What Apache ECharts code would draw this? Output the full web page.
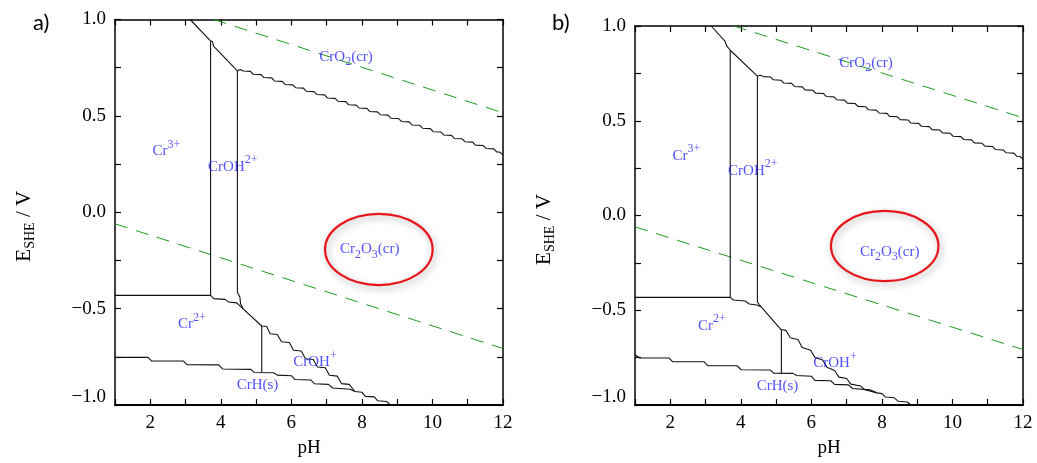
<!DOCTYPE html>
<html>
<head>
<meta charset="utf-8">
<script src="https://cdn.jsdelivr.net/npm/echarts@6/dist/echarts.min.js"></script>
<style>
  html, body { margin: 0; padding: 0; background: #fff; }
  #chart { width: 1037px; height: 463px; }
</style>
</head>
<body>
<div id="chart"></div>
<script>
// Pourbaix (E–pH) diagrams of chromium, two variants side by side.

// ---- axis ranges and tick labels ----
const pHRange = [1, 12];
const eRange = [-1, 1];
const pHTickLabels = [2, 4, 6, 8, 10, 12];
const eTickLabels = [-1.0, -0.5, 0.0, 0.5, 1.0];

// ---- water stability lines (shared) ----
const oxygenLine = [[3.80, 1.0], [12, 0.516]];
const hydrogenLine = [[1, -0.060], [12, -0.707]];

// ---- Cr2O3 / CrO2 staircase above pH 4.6 (shared) ----
const oxideSteps = [
  [4.84, 0.731], [4.92, 0.716], [5.14, 0.714], [5.22, 0.699], [5.44, 0.697], [5.52, 0.681],
  [5.74, 0.679], [5.82, 0.663], [6.04, 0.661], [6.12, 0.646], [6.34, 0.644], [6.42, 0.628],
  [6.64, 0.626], [6.72, 0.611], [6.94, 0.609], [7.02, 0.593], [7.24, 0.591], [7.32, 0.576],
  [7.54, 0.574], [7.62, 0.558], [7.84, 0.556], [7.92, 0.541], [8.14, 0.539], [8.22, 0.523],
  [8.44, 0.521], [8.52, 0.506], [8.74, 0.504], [8.82, 0.488], [9.04, 0.486], [9.12, 0.471],
  [9.34, 0.469], [9.42, 0.453], [9.64, 0.451], [9.72, 0.436], [9.94, 0.434], [10.02, 0.418],
  [10.24, 0.416], [10.32, 0.401], [10.54, 0.399], [10.62, 0.383], [10.84, 0.381], [10.92, 0.366],
  [11.14, 0.364], [11.22, 0.348], [11.44, 0.346], [11.52, 0.331], [11.74, 0.329], [11.82, 0.313],
  [11.92, 0.311], [12.00, 0.296]
];

// ---- panel a boundaries ----
const aUpperHead = [[3.13, 1.0], [3.70, 0.890], [3.76, 0.886], [3.80, 0.860], [4.47, 0.734], [4.55, 0.741], [4.64, 0.733]];
const aCr3CrOH2 = [[3.71, 0.888], [3.71, -0.431]];
const aCrOH2Oxide = [[4.47, 0.734], [4.47, -0.415], [4.54, -0.440], [4.56, -0.475], [4.64, -0.503]];
const aCr2Upper = [[1.0, -0.431], [3.71, -0.431], [3.80, -0.448], [4.12, -0.452], [4.22, -0.466], [4.45, -0.470], [4.64, -0.503]];
const aOxideLower = [
  [4.64, -0.503], [5.16, -0.590], [5.30, -0.593], [5.40, -0.630], [5.60, -0.634], [5.72, -0.672],
  [5.94, -0.676], [6.06, -0.716], [6.28, -0.720], [6.40, -0.760], [6.62, -0.764], [6.74, -0.803],
  [6.96, -0.807], [7.08, -0.846], [7.30, -0.850], [7.42, -0.889], [7.64, -0.893], [7.80, -0.930],
  [8.00, -0.934], [8.10, -0.955], [8.35, -0.958], [8.45, -0.978], [8.70, -0.982], [8.80, -0.998],
  [9.00, -1.0]
];
const aCr2CrOH = [[5.16, -0.590], [5.16, -0.832]];
const aHydride = [
  [1.0, -0.753], [1.94, -0.753], [2.04, -0.772], [2.94, -0.772], [3.04, -0.791], [3.94, -0.792],
  [4.05, -0.813], [4.85, -0.815], [4.95, -0.831], [5.50, -0.833], [5.60, -0.845], [6.00, -0.848],
  [6.10, -0.868], [6.55, -0.870], [6.66, -0.890], [7.05, -0.893], [7.17, -0.912], [7.66, -0.918],
  [7.80, -0.930]
];

// ---- panel b boundaries ----
const bUpperHead = [[3.16, 1.0], [3.55, 0.920], [3.60, 0.895], [3.70, 0.872], [4.47, 0.735], [4.55, 0.740], [4.64, 0.733]];
const bCr3CrOH2 = [[3.70, 0.872], [3.70, -0.432]];
const bCrOH2Oxide = [[4.47, 0.735], [4.47, -0.455], [4.52, -0.470], [4.57, -0.481]];
const bCr2Upper = [[1.0, -0.432], [3.70, -0.432], [3.79, -0.446], [4.12, -0.451], [4.24, -0.467], [4.45, -0.472], [4.57, -0.481]];
const bOxideLower = [
  [4.57, -0.481], [5.14, -0.602], [5.28, -0.606], [5.40, -0.645], [5.62, -0.654], [5.74, -0.697],
  [5.98, -0.711], [6.10, -0.749], [6.32, -0.763], [6.44, -0.801], [6.66, -0.818], [6.78, -0.853],
  [7.00, -0.860], [7.12, -0.890], [7.40, -0.900], [7.52, -0.920], [7.86, -0.936], [8.00, -0.940],
  [8.10, -0.958], [8.35, -0.962], [8.46, -0.980], [8.72, -0.984], [8.80, -0.996], [9.00, -1.0]
];
const bCr2CrOH = [[5.15, -0.602], [5.15, -0.832]];
const bHydride = [
  [1.0, -0.735], [1.03, -0.745], [1.14, -0.752], [1.97, -0.752], [2.07, -0.772], [2.96, -0.772],
  [3.06, -0.792], [3.90, -0.793], [4.01, -0.814], [4.83, -0.815], [4.93, -0.832], [5.48, -0.833],
  [5.58, -0.844], [6.00, -0.848], [6.10, -0.870], [6.55, -0.872], [6.66, -0.891], [7.05, -0.894],
  [7.17, -0.913], [7.66, -0.920], [7.86, -0.936]
];

// ---- species labels (shared) ----
const speciesText = [
  '{t|CrO}{sub|2}{t|(cr)}',
  '{t|Cr}{sup|3+}',
  '{t|CrOH}{sup|2+}',
  '{t|Cr}{sub|2}{t|O}{sub|3}{t|(cr)}',
  '{t|Cr}{sup|2+}',
  '{t|CrOH}{sup|+}',
  '{t|CrH(s)}'
];
const speciesPH = [7.55, 2.46, 4.34, 8.22, 3.18, 6.67, 5.04];
const speciesE = [0.804, 0.316, 0.236, -0.193, -0.581, -0.779, -0.898];

// ---- highlighted Cr2O3 field: centre pH, centre E, half-width (pH), half-height (V) ----
const aHighlight = [8.48, -0.193, 1.525, 0.185];
const bHighlight = [8.08, -0.161, 1.523, 0.185];

// ---------------------------------------------------------------
const SERIF = 'Liberation Serif';
const BLUE = '#2424ff';
const GREEN = '#1f9a1f';

const grids = [
  { left: 115, top: 19.5, width: 388, height: 387 },
  { left: 635, top: 26, width: 388, height: 386.5 }
];

const tickRich = {
  n: { fontFamily: SERIF, fontSize: 19, color: '#000' },
  lo: { fontFamily: SERIF, fontSize: 19, color: '#000', padding: [0, 0, 15, 0] }
};

function pHLabel(v) {
  return pHTickLabels.indexOf(v) >= 0 ? '{n|' + v + '}' : '';
}
function eLabel(v) {
  const hit = eTickLabels.find(t => Math.abs(t - v) < 1e-6);
  if (hit === undefined) return '';
  const s = Math.abs(hit).toFixed(1);
  const txt = hit < -1e-9 ? '\u2212' + s : s;
  return hit <= -1 + 1e-6 ? '{lo|' + txt + '}' : '{n|' + txt + '}';
}

const tickStyle = { inside: true, length: 6, lineStyle: { color: '#000', width: 1.2 } };

const xAxes = [], yAxes = [];
grids.forEach((g, p) => {
  xAxes.push({
    gridIndex: p, type: 'value', min: pHRange[0], max: pHRange[1], interval: 1, position: 'bottom',
    axisLine: { show: true, onZero: false, lineStyle: { color: '#000', width: 2 } },
    axisTick: tickStyle,
    axisLabel: { formatter: pHLabel, margin: 9, fontFamily: SERIF, fontSize: 19, color: '#000', rich: tickRich },
    splitLine: { show: false },
    name: 'pH', nameLocation: 'middle', nameGap: 34,
    nameTextStyle: { fontFamily: SERIF, fontSize: 19, color: '#000' }
  });
  xAxes.push({
    gridIndex: p, type: 'value', min: pHRange[0], max: pHRange[1], interval: 1, position: 'top',
    axisLine: { show: true, onZero: false, lineStyle: { color: '#000', width: 1.5 } },
    axisTick: tickStyle, axisLabel: { show: false }, splitLine: { show: false }
  });
  yAxes.push({
    gridIndex: p, type: 'value', min: eRange[0], max: eRange[1], interval: 0.25, position: 'left',
    axisLine: { show: true, onZero: false, lineStyle: { color: '#000', width: 1.5 } },
    axisTick: tickStyle,
    axisLabel: { formatter: eLabel, margin: 9, fontFamily: SERIF, fontSize: 19, color: '#000', rich: tickRich },
    splitLine: { show: false },
    name: '{e|E}{s|SHE}{v| / V}', nameLocation: 'middle', nameGap: 78,
    nameTextStyle: {
      rich: {
        e: { fontFamily: SERIF, fontSize: 21, color: '#000' },
        s: { fontFamily: SERIF, fontSize: 14, color: '#000', padding: [11, 0, 0, 0] },
        v: { fontFamily: SERIF, fontSize: 21, color: '#000', padding: [0, 28, 0, 0] }
      }
    }
  });
  yAxes.push({
    gridIndex: p, type: 'value', min: eRange[0], max: eRange[1], interval: 0.25, position: 'right',
    axisLine: { show: true, onZero: false, lineStyle: { color: '#000', width: 1.5 } },
    axisTick: tickStyle, axisLabel: { show: false }, splitLine: { show: false }
  });
});

function boundary(data, p) {
  return {
    type: 'line', xAxisIndex: 2 * p, yAxisIndex: 2 * p, data: data,
    symbol: 'none', silent: true, clip: true,
    lineStyle: { color: '#111', width: 1.1 }, z: 3
  };
}
function waterLine(data, p) {
  return {
    type: 'line', xAxisIndex: 2 * p, yAxisIndex: 2 * p, data: data,
    symbol: 'none', silent: true, clip: true,
    lineStyle: { color: GREEN, width: 1, type: [13, 9] }, z: 2
  };
}
function speciesLabels(p) {
  return {
    type: 'scatter', xAxisIndex: 2 * p, yAxisIndex: 2 * p, symbolSize: 0, silent: true, z: 5,
    data: speciesPH.map((x, i) => ({ value: [x, speciesE[i]], label: { formatter: speciesText[i] } })),
    label: {
      show: true, position: 'inside', align: 'center', verticalAlign: 'middle',
      rich: {
        t: { fontFamily: SERIF, fontSize: 15, color: BLUE },
        sup: { fontFamily: SERIF, fontSize: 12, color: BLUE, padding: [0, 0, 13, 0] },
        sub: { fontFamily: SERIF, fontSize: 12, color: BLUE, padding: [10, 0, 0, 0] }
      }
    }
  };
}
function highlight(h, p) {
  return {
    type: 'custom', xAxisIndex: 2 * p, yAxisIndex: 2 * p, silent: true, z: 4,
    data: [h],
    renderItem: function (params, api) {
      const c = api.coord([api.value(0), api.value(1)]);
      const s = api.size([api.value(2), api.value(3)]);
      return {
        type: 'ellipse',
        shape: { cx: c[0], cy: c[1], rx: s[0], ry: s[1] },
        style: {
          fill: 'none', stroke: '#e8161b', lineWidth: 2.2,
          shadowBlur: 7, shadowColor: 'rgba(0,0,0,0.35)', shadowOffsetX: 2, shadowOffsetY: 3
        }
      };
    }
  };
}

const panels = [
  { lines: [aUpperHead.concat(oxideSteps), aCr3CrOH2, aCrOH2Oxide, aCr2Upper, aOxideLower, aCr2CrOH, aHydride], mark: aHighlight },
  { lines: [bUpperHead.concat(oxideSteps), bCr3CrOH2, bCrOH2Oxide, bCr2Upper, bOxideLower, bCr2CrOH, bHydride], mark: bHighlight }
];

const series = [];
panels.forEach((pn, p) => {
  series.push(waterLine(oxygenLine, p), waterLine(hydrogenLine, p));
  pn.lines.forEach(d => series.push(boundary(d, p)));
  series.push(highlight(pn.mark, p));
  series.push(speciesLabels(p));
});

const chart = echarts.init(document.getElementById('chart'), null, { renderer: 'canvas' });
chart.setOption({
  animation: false,
  backgroundColor: '#fff',
  grid: grids,
  xAxis: xAxes,
  yAxis: yAxes,
  series: series,
  graphic: [
    { type: 'text', left: 33, top: 12, style: { text: 'a)', font: '22px Lato, "Open Sans", sans-serif', fill: '#000' } },
    { type: 'text', left: 552, top: 12, style: { text: 'b)', font: '22px Lato, "Open Sans", sans-serif', fill: '#000' } }
  ]
});
</script>
</body>
</html>
